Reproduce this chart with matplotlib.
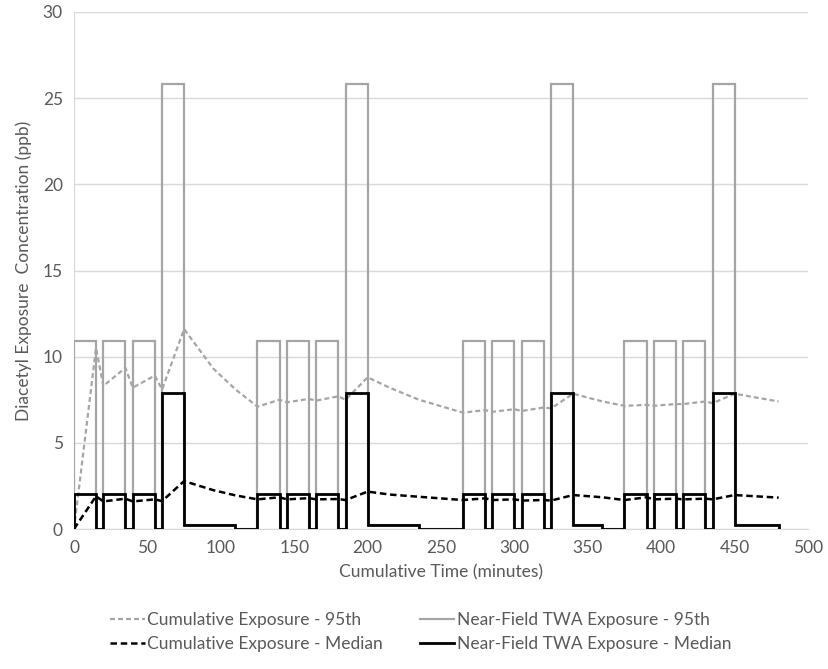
import matplotlib
matplotlib.use("Agg")
import matplotlib.pyplot as plt
from matplotlib.lines import Line2D

plt.rcParams['font.family'] = ['Lato', 'DejaVu Sans']

# step edges (minutes) for the near-field TWA series
edges = [0, 15, 20, 35, 40, 55, 60, 75, 110, 125,
         140, 145, 160, 165, 180, 185, 200, 235, 265,
         280, 285, 300, 305, 320, 325, 340, 360, 375,
         390, 395, 410, 415, 430, 435, 450, 480]
nf_95 = [10.9, 0, 10.9, 0, 10.9, 0, 25.8, 0.25, 0,
         10.9, 0, 10.9, 0, 10.9, 0, 25.8, 0.25, 0,
         10.9, 0, 10.9, 0, 10.9, 0, 25.8, 0.25, 0,
         10.9, 0, 10.9, 0, 10.9, 0, 25.8, 0.25]
nf_med = [2.05, 0, 2.05, 0, 2.05, 0, 7.9, 0.25, 0,
          2.05, 0, 2.05, 0, 2.05, 0, 7.9, 0.25, 0,
          2.05, 0, 2.05, 0, 2.05, 0, 7.9, 0.25, 0,
          2.05, 0, 2.05, 0, 2.05, 0, 7.9, 0.25]

# cumulative exposure points
cum_t = [0, 15, 20, 35, 40, 55, 60, 75, 95, 110, 125,
         140, 145, 160, 165, 180, 185, 200, 215, 235, 265,
         280, 285, 300, 305, 320, 325, 340, 360, 375,
         390, 395, 410, 415, 430, 435, 450, 480]
cum_95 = [0, 10.5, 8.3, 9.35, 8.2, 8.9, 8.1, 11.6, 9.3, 8.1, 7.1,
          7.5, 7.35, 7.55, 7.45, 7.7, 7.5, 8.8, 8.2, 7.5, 6.75,
          6.9, 6.8, 6.95, 6.85, 7.05, 7.0, 7.85, 7.4, 7.15,
          7.2, 7.15, 7.25, 7.25, 7.4, 7.3, 7.85, 7.4]
cum_med = [0, 1.9, 1.6, 1.76, 1.6, 1.72, 1.62, 2.78, 2.25, 1.95, 1.72,
           1.84, 1.72, 1.79, 1.72, 1.74, 1.68, 2.17, 2.0, 1.87, 1.68,
           1.78, 1.68, 1.72, 1.65, 1.68, 1.65, 1.97, 1.84, 1.68,
           1.84, 1.72, 1.76, 1.72, 1.76, 1.72, 1.97, 1.82]

grey = '#a5a5a5'
txt = '#595959'

fig = plt.figure(figsize=(8.29, 6.69), dpi=100)
ax = fig.add_axes([74/829, 1-529/669, 734/829, 517/669])

ax.stairs(nf_95, edges, baseline=0, color=grey, lw=1.6, zorder=3)
l1, = ax.plot(cum_t, cum_95, color=grey, lw=1.6, ls=(0, (2.2, 1.4)), zorder=4)
ax.stairs(nf_med, edges, baseline=0, color='black', lw=2.0, zorder=5)
l2, = ax.plot(cum_t, cum_med, color='black', lw=1.8, ls=(0, (2.6, 1.5)), zorder=6)

ax.set_xlim(0, 500)
ax.set_ylim(0, 30)
ax.set_xticks(range(0, 501, 50))
ax.set_yticks(range(0, 31, 5))
ax.grid(axis='y', color='#d9d9d9', lw=1)
ax.set_axisbelow(True)
for s in ['top', 'right']:
    ax.spines[s].set_visible(False)
ax.spines['left'].set_color('#d9d9d9')
ax.spines['bottom'].set_color('#d9d9d9')
ax.tick_params(length=0, labelsize=12.5, labelcolor=txt, pad=8)

ax.set_xlabel('Cumulative Time (minutes)', fontsize=12.5, color=txt, labelpad=6)
ax.set_ylabel('Diacetyl Exposure  Concentration (ppb)', fontsize=12.5, color=txt, labelpad=8)

hh = [l1, l2, Line2D([], [], color=grey, lw=1.6), Line2D([], [], color='black', lw=2.0)]
ll = ['Cumulative Exposure - 95th', 'Cumulative Exposure - Median',
      'Near-Field TWA Exposure - 95th', 'Near-Field TWA Exposure - Median']
leg = fig.legend(hh, ll, loc='upper left', bbox_to_anchor=(110/829, 1 - 612/669), ncol=2,
                 frameon=False, fontsize=12.5, handlelength=2.0, handletextpad=0.15,
                 columnspacing=2.1, labelspacing=0.45, borderpad=0, borderaxespad=0)
for t in leg.get_texts():
    t.set_color(txt)

fig.savefig('out.png', dpi=100)
